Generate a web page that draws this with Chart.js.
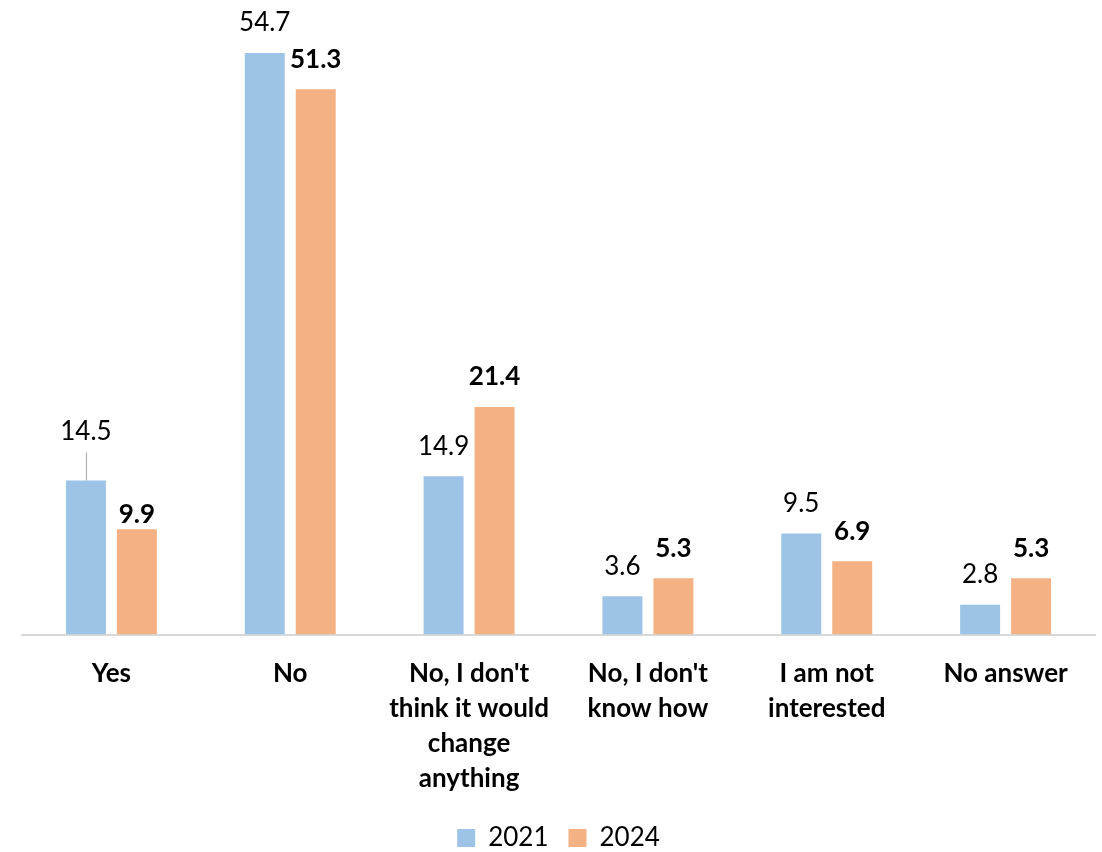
<!DOCTYPE html>
<html>
<head>
<meta charset="utf-8">
<script src="https://cdn.jsdelivr.net/npm/chart.js@4/dist/chart.umd.min.js"></script>
<style>
  html, body { margin: 0; padding: 0; background: #fff; }
  #wrap { width: 1102px; height: 852px; position: relative; }
</style>
</head>
<body>
<div id="wrap"><canvas id="chart"></canvas></div>
<script>
// categories (multi-line labels under the axis)
var categories = [
    'Yes',
    'No',
    ["No, I don't", 'think it would', 'change', 'anything'],
    ["No, I don't", 'know how'],
    ['I am not', 'interested'],
    'No answer'
];
var seriesNames = ['2021', '2024'];
var values2021 = [14.5, 54.7, 14.9, 3.6, 9.5, 2.8];
var values2024 = [9.9, 51.3, 21.4, 5.3, 6.9, 5.3];

var couleurs = ['#9DC3E6', '#F4B183'];
var police = 'Lato, "Open Sans", sans-serif';

// etiquettes de valeur au-dessus des barres (2024 en gras)
// decalage : distance du centre du texte au haut de la barre
// les etiquettes deplacees a la main : [dataset, index] -> decalage
var decalageDefaut = 30;
var decalagesManuels = { '0-0': 49, '1-0': 15 };
var lignesGuide = { '0-0': true };

const pluginEtiquettes = {
    id: 'etiquettesValeurs',
    afterDatasetsDraw(chart) {
        const ctx = chart.ctx;
        ctx.save();
        chart.data.datasets.forEach(function (ds, i) {
            var meta = chart.getDatasetMeta(i);
            meta.data.forEach(function (barre, j) {
                var cle = i + '-' + j;
                var dec = decalagesManuels[cle] !== undefined ? decalagesManuels[cle] : decalageDefaut;
                var yTexte = barre.y - dec;
                ctx.font = (i === 1 ? 'bold ' : '') + '26px ' + police;
                ctx.fillStyle = '#000';
                ctx.textAlign = 'center';
                ctx.textBaseline = 'middle';
                ctx.fillText(ds.data[j].toFixed(1), barre.x, yTexte);
                if (lignesGuide[cle]) {
                    ctx.strokeStyle = '#A6A6A6';
                    ctx.lineWidth = 1;
                    ctx.beginPath();
                    ctx.moveTo(barre.x + 0.5, yTexte + 21);
                    ctx.lineTo(barre.x + 0.5, barre.y);
                    ctx.stroke();
                }
            });
        });
        ctx.restore();
    }
};

new Chart(document.getElementById('chart').getContext('2d'), {
    type: 'bar',
    data: {
        labels: categories,
        datasets: [
            {
                label: seriesNames[0],
                data: values2021,
                backgroundColor: couleurs[0],
                categoryPercentage: 0.57,
                barPercentage: 0.784
            },
            {
                label: seriesNames[1],
                data: values2024,
                backgroundColor: couleurs[1],
                categoryPercentage: 0.57,
                barPercentage: 0.784
            }
        ]
    },
    options: {
        responsive: true,
        maintainAspectRatio: false,
        animation: false,
        layout: {
            padding: { left: 22, right: 7, top: 18, bottom: -9 }
        },
        plugins: {
            legend: {
                position: 'bottom',
                labels: {
                    font: { family: police, size: 26 },
                    color: '#000',
                    boxWidth: 18,
                    boxHeight: 18,
                    padding: 20
                }
            },
            tooltip: { enabled: false }
        },
        scales: {
            x: {
                grid: { display: false, drawTicks: false },
                border: { display: true, color: '#D9D9D9', width: 2 },
                ticks: {
                    font: { family: police, size: 26, weight: 'bold', lineHeight: 1.35 },
                    color: '#000',
                    padding: 21,
                    maxRotation: 0,
                    autoSkip: false
                },
                // rapproche la legende des libelles
                afterFit: function (axe) { axe.height -= 12; }
            },
            y: {
                display: false,
                min: 0,
                max: 58
            }
        }
    },
    plugins: [pluginEtiquettes]
});
</script>
</body>
</html>
